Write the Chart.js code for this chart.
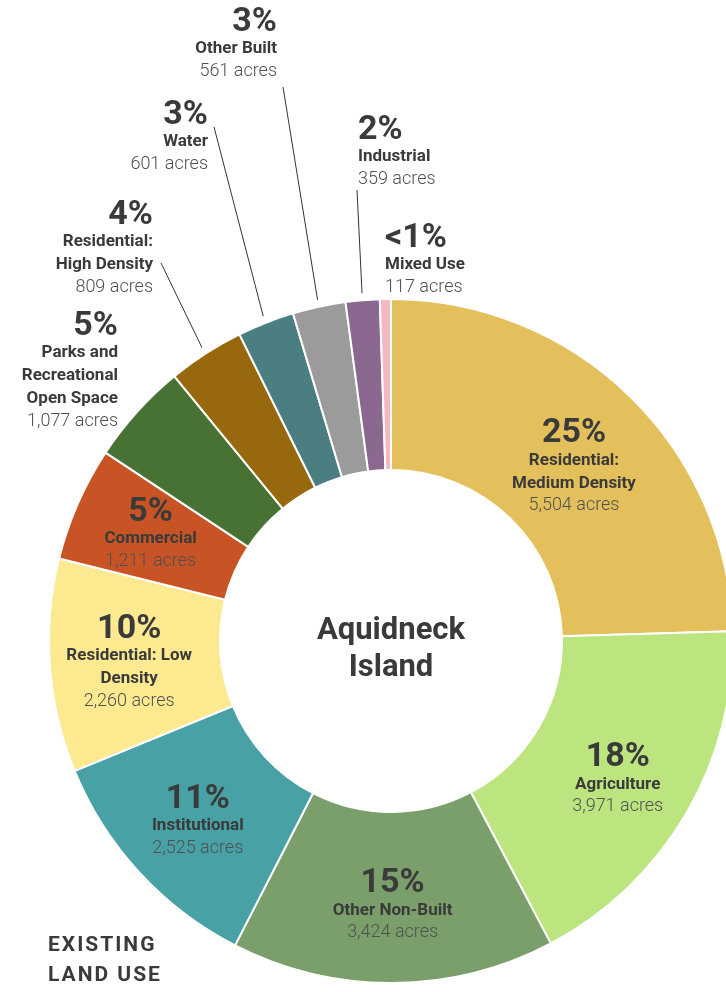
<!DOCTYPE html>
<html>
<head>
<meta charset="utf-8">
<style>
  html, body { margin: 0; padding: 0; background: #fff; overflow: hidden; }
  #wrap { width: 780px; height: 992px; }
</style>
</head>
<body>
<div id="wrap">
  <canvas id="landUse"></canvas>
</div>

<script src="https://cdn.jsdelivr.net/npm/chart.js"></script>

<script>
  // land use categories, clockwise from 12 o'clock
  const categories = [
    'Residential: Medium Density', 'Agriculture', 'Other Non-Built', 'Institutional',
    'Residential: Low Density', 'Commercial', 'Parks and Recreational Open Space',
    'Residential: High Density', 'Water', 'Other Built', 'Industrial', 'Mixed Use'
  ];
  const acres = [5504, 3971, 3424, 2525, 2260, 1211, 1077, 809, 601, 561, 359, 117];
  const percentLabels = ['25%', '18%', '15%', '11%', '10%', '5%', '5%', '4%', '3%', '3%', '2%', '<1%'];
  const nameLines = [
    ['Residential:', 'Medium Density'],
    ['Agriculture'],
    ['Other Non-Built'],
    ['Institutional'],
    ['Residential: Low', 'Density'],
    ['Commercial'],
    ['Parks and', 'Recreational', 'Open Space'],
    ['Residential:', 'High Density'],
    ['Water'],
    ['Other Built'],
    ['Industrial'],
    ['Mixed Use']
  ];
  const colors = [
    '#E4C05C', '#BCE47F', '#7A9F6A', '#48A1A4', '#FDE990', '#C85426',
    '#477233', '#98680F', '#4A7E80', '#9B9B9B', '#8A6890', '#F6B8C0'
  ];

  // where the small slices put their labels (outside the ring)
  const outside = {
    6:  { x: 118, y: 326, align: 'right' },
    7:  { x: 153, y: 215, align: 'right', line: [161, 263] },
    8:  { x: 208, y: 115, align: 'right', line: [214, 127] },
    9:  { x: 277, y: 22,  align: 'right', line: [283, 87] },
    10: { x: 358, y: 130, align: 'left',  line: [357, 190] },
    11: { x: 385, y: 238, align: 'left' }
  };
  // small vertical nudges for the labels inside the ring
  const nudge = { 0: 12, 1: 4, 5: -4 };

  const TEXT = '#3a3a3a';

  function drawBlock(ctx, i, x, yTop, align) {
    ctx.textAlign = align;
    ctx.textBaseline = 'middle';
    ctx.fillStyle = TEXT;
    let y = yTop;
    ctx.font = 'bold 34px Roboto';
    ctx.fillText(percentLabels[i], x, y);
    y += 27;
    ctx.font = 'bold 17px Roboto';
    nameLines[i].forEach((t, k) => {
      if (k > 0) y += 23;
      ctx.fillText(t, x, y);
    });
    y += 22;
    ctx.font = '300 18px Roboto';
    ctx.fillStyle = '#505050';
    ctx.fillText(acres[i].toLocaleString('en-US') + ' acres', x, y);
  }

  const labelPlugin = {
    id: 'sliceLabels',
    afterDraw(chart) {
      const ctx = chart.ctx;
      const arcs = chart.getDatasetMeta(0).data;
      ctx.save();
      arcs.forEach((arc, i) => {
        const p = arc.getProps(['x', 'y', 'startAngle', 'endAngle', 'innerRadius', 'outerRadius'], true);
        const mid = (p.startAngle + p.endAngle) / 2;
        if (outside[i]) {
          const o = outside[i];
          if (o.line) {
            const r = p.outerRadius + 7;
            ctx.beginPath();
            ctx.moveTo(p.x + Math.cos(mid) * r, p.y + Math.sin(mid) * r);
            ctx.lineTo(o.line[0], o.line[1]);
            ctx.strokeStyle = '#333';
            ctx.lineWidth = 1;
            ctx.stroke();
          }
          drawBlock(ctx, i, o.x, o.y, o.align);
        } else {
          const r = (p.innerRadius + p.outerRadius) / 2 + 6;
          const cx = p.x + Math.cos(mid) * r;
          const cy = p.y + Math.sin(mid) * r + 5 + (nudge[i] || 0);
          const h = 27 + 23 * (nameLines[i].length - 1) + 22;
          drawBlock(ctx, i, cx, cy - h / 2, 'center');
        }
      });

      // centre title
      const c = arcs[0];
      ctx.textAlign = 'center';
      ctx.textBaseline = 'middle';
      ctx.fillStyle = TEXT;
      ctx.font = 'bold 31px Roboto';
      ctx.fillText('Aquidneck', c.x, c.y - 10);
      ctx.fillText('Island', c.x, c.y + 27);

      // corner title
      ctx.textAlign = 'left';
      ctx.font = 'bold 21px Roboto';
      ctx.letterSpacing = '2px';
      ctx.fillText('EXISTING', 48, 946);
      ctx.fillText('LAND USE', 48, 976);
      ctx.restore();
    }
  };

  new Chart(document.getElementById('landUse'), {
    type: 'doughnut',
    data: {
      labels: categories,
      datasets: [{
        data: acres,
        backgroundColor: colors,
        borderColor: '#ffffff',
        borderWidth: 2
      }]
    },
    options: {
      responsive: true,
      maintainAspectRatio: false,
      animation: false,
      cutout: '50%',
      rotation: 0,
      layout: { padding: { left: 48, right: 46, top: 298, bottom: 8 } },
      plugins: {
        legend: { display: false },
        tooltip: { enabled: false }
      }
    },
    plugins: [labelPlugin]
  });
</script>
</body>
</html>
